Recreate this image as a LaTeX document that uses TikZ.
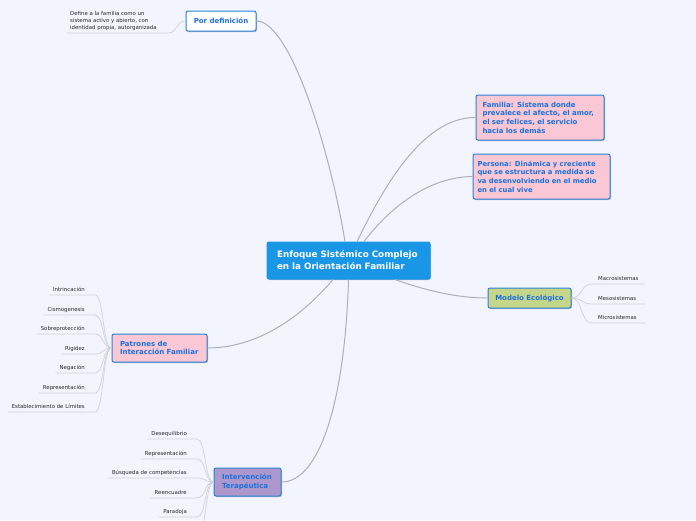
\documentclass[tikz,border=0pt]{standalone}
\usepackage{fontspec}
\setmainfont{DejaVu Sans}
\usetikzlibrary{shadows}
\definecolor{bg}{RGB}{242,245,253}
\definecolor{centralc}{RGB}{26,150,230}
\definecolor{nodetext}{RGB}{28,112,222}
\definecolor{borderc}{RGB}{45,128,218}
\definecolor{pinkf}{RGB}{250,200,212}
\definecolor{greenf}{RGB}{196,214,138}
\definecolor{purplef}{RGB}{172,152,204}
\definecolor{mainline}{RGB}{176,176,178}
\definecolor{subline}{RGB}{210,210,214}
\definecolor{childtext}{RGB}{40,40,40}
\begin{document}
\begin{tikzpicture}[x=1pt,y=-1pt,
  box/.style={draw=borderc,line width=1pt,rounded corners=2pt,align=left,
    text=nodetext,font=\fontsize{7}{8.7}\selectfont\bfseries,inner xsep=8pt,inner ysep=0pt,
    drop shadow={shadow xshift=1pt,shadow yshift=-1pt,opacity=0.25,fill=black}},
  childt/.style={inner sep=0pt,text=childtext,font=\fontsize{5.4}{7}\selectfont},
  mainl/.style={draw=mainline,line width=1pt},
  subl/.style={draw=subline,line width=0.7pt}]
\fill[bg] (0,0) rectangle (696,520);
\useasboundingbox (0,0) rectangle (696,520);
\clip (0,0) rectangle (696,520);

% central
\node[box,fill=centralc,draw=centralc,text=white,minimum width=163pt,minimum height=37pt,
  text width=143pt,inner xsep=10pt,font=\fontsize{8.8}{12}\selectfont\bfseries,drop shadow={opacity=0}] (c) at (348.5,260.5)
  {Enfoque Sistémico Complejo\\en la Orientación Familiar};

% main nodes
\node[box,fill=white,minimum width=70pt,minimum height=20pt,inner xsep=2pt,align=center] (pd) at (221,21) {Por definición};
\node[box,fill=pinkf,minimum width=128pt,minimum height=45pt,text width=115pt,inner xsep=6.5pt] (fam) at (540,117.5)
  {Familia: Sistema donde\\prevalece el afecto, el amor,\\el ser felices, el servicio\\hacia los demás};
\node[box,fill=pinkf,minimum width=137pt,minimum height=45pt,text width=128pt,inner xsep=4.5pt,
  font=\fontsize{6.85}{8.7}\selectfont\bfseries] (per) at (541.5,176.5)
  {Persona: Dinámica y creciente\\que se estructura a medida se\\va desenvolviendo en el medio\\en el cual vive};
\node[box,fill=greenf,minimum width=83pt,minimum height=20pt,inner xsep=2pt,align=center] (mod) at (529.5,298) {Modelo Ecológico};
\node[box,fill=pinkf,minimum width=95pt,minimum height=28pt,text width=79pt] (pat) at (159.5,348)
  {Patrones de\\Interacción Familiar};
\node[box,fill=purplef,minimum width=67pt,minimum height=28pt,text width=51pt] (int) at (247.5,482)
  {Intervención\\Terapéutica};

% main connectors
\draw[mainl] ([xshift=-3.5pt]c.north) .. controls (330,150) and (290,21) .. (pd.east);
\draw[mainl] ([xshift=8.5pt]c.north) .. controls (380,195) and (420,117) .. (fam.west);
\draw[mainl] ([xshift=15.5pt]c.north) .. controls (392,205) and (430,177) .. (per.west);
\draw[mainl] ([xshift=46.5pt]c.south) .. controls (430,292) and (460,298) .. (mod.west);
\draw[mainl] ([xshift=-15.5pt]c.south) .. controls (290,330) and (245,348) .. (pat.east);
\draw[mainl] (c.south) .. controls (345,400) and (320,482) .. (int.east);

% Por definicion child
\node[childt,anchor=north west,align=left] (def) at (70,11)
  {Define a la familia como un\\sistema activo y abierto, con\\identidad propia, autorganizada};
\coordinate (defl) at (67,33);
\draw[subl] (defl) -- (168,33) .. controls (178,33) and (176,21) .. (pd.west);

% Modelo children
\foreach \n/\y/\t in {m1/280/Macrosistemas,m2/300/Mesosistemas,m3/319/Microsistemas}{
  \node[childt,anchor=base west] (\n) at (598,\y) {\t};
  \draw[subl] (mod.east) .. controls (583,298) and (580,\y+4) .. ([shift={(-6pt,-4pt)}]\n.base west) -- (645,\y+4);
}

% Patrones children
\foreach \n/\y/\t in {p1/291/Intrincación,p2/311/Cismogenesis,p3/330/Sobreprotección,p4/350/Rigidez,p5/369/Negación,p6/389/Representación,p7/408/Establecimiento de Límites}{
  \node[childt,anchor=base east] (\n) at (85,\y) {\t};
  \draw[subl] ([shift={(-4pt,-4pt)}]\n.base west) -- ([shift={(10pt,-4pt)}]\n.base east)
     .. controls +(9,0) and +(-9,0) .. (pat.west);
}

% Intervencion children
\foreach \n/\y/\t in {i1/435/Desequilibrio,i2/455/Representación,i3/474/Búsqueda de competencias,i4/494/Reencuadre,i5/513/Paradoja}{
  \node[childt,anchor=base east] (\n) at (187,\y) {\t};
  \draw[subl] ([shift={(-4pt,-4pt)}]\n.base west) -- ([shift={(10pt,-4pt)}]\n.base east)
     .. controls +(9,0) and +(-9,0) .. (int.west);
}
\coordinate (i6) at (197,540);
\draw[subl] (i6) .. controls (206,540) and (205,482) .. (int.west);
\end{tikzpicture}
\end{document}
